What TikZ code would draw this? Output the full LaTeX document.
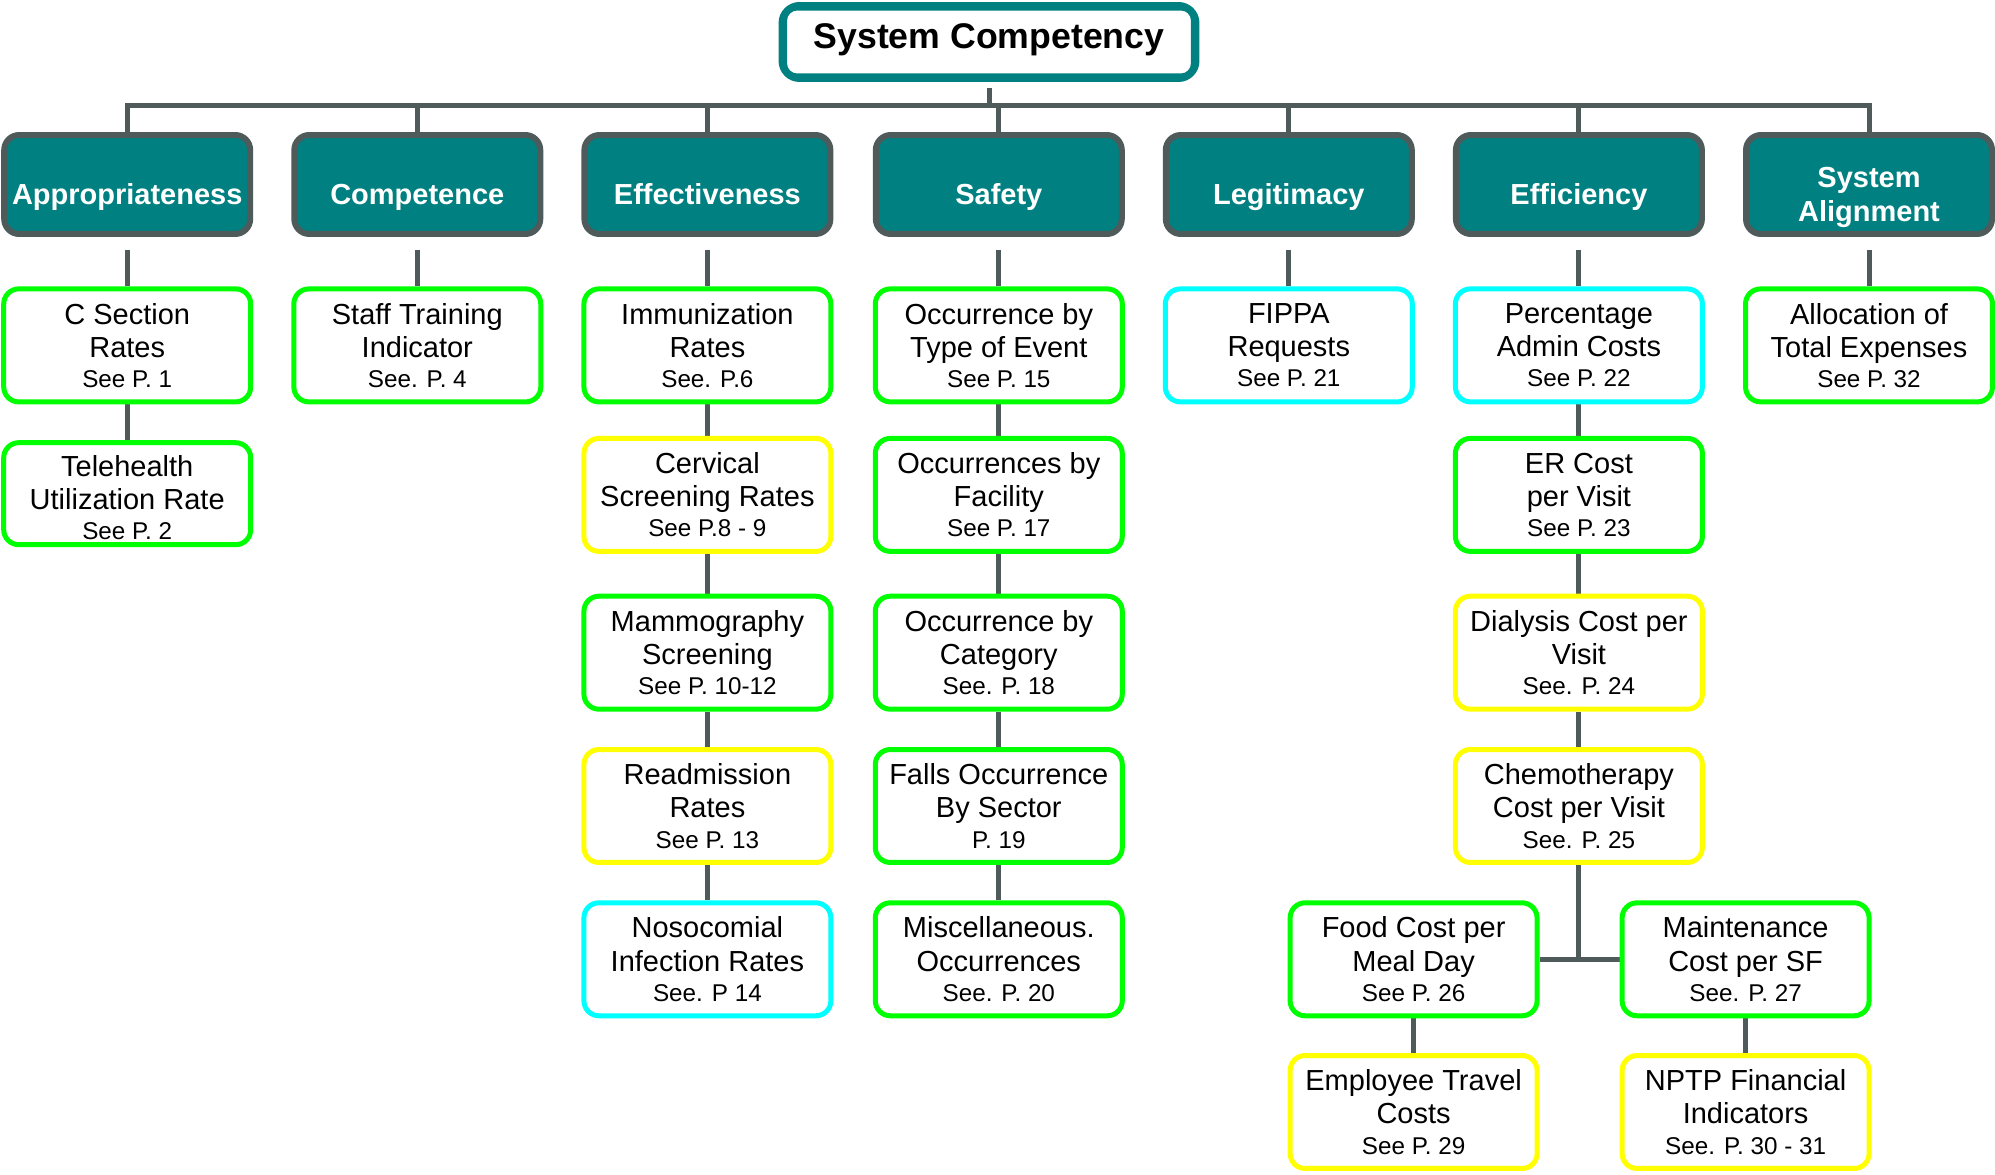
\documentclass[tikz,border=0pt]{standalone}
\usepackage{fontspec}
\setmainfont{Liberation Sans}
\usetikzlibrary{backgrounds}
\definecolor{tealc}{RGB}{0,128,128}
\definecolor{lineg}{RGB}{79,91,91}
\definecolor{lgreen}{RGB}{0,255,0}
\definecolor{lyellow}{RGB}{255,255,0}
\definecolor{lcyan}{RGB}{0,255,255}
\newcommand{\seep}[1]{{\fontsize{13.8}{16}\selectfont #1}}
\begin{document}
\begin{tikzpicture}[x=0.02cm,y=-0.02cm,
  titlebox/.style={draw=tealc, fill=white, line width=0.14cm, rounded corners=0.35cm,
    minimum width=8.28cm, minimum height=1.46cm, inner sep=0,
    text height=14.5pt, text depth=7.2pt,
    font=\fontsize{20.3}{24}\selectfont\bfseries},
  hdr/.style={draw=lineg, fill=tealc, line width=0.12cm, rounded corners=0.3cm,
    minimum width=4.92cm, minimum height=1.98cm, text=white, align=center, inner sep=0,
    text height=23pt, text depth=0pt,
    font=\fontsize{16.5}{19.5}\selectfont\bfseries},
  leaf/.style={draw=#1, fill=white, line width=0.1cm, rounded corners=0.3cm,
    minimum width=4.94cm, minimum height=2.26cm, align=center, inner sep=0,
    font=\fontsize{16.5}{18.8}\selectfont},
  conn/.style={draw=lineg, line width=0.1cm},
  hconn/.style={conn, shorten <=0.26cm},
]
\useasboundingbox (0,0) rectangle (1995,1175);

% title
\node[titlebox] (title) at (989,42) {System Competency};
\draw[tealc, line width=0.04cm, rounded corners=0.22cm]
  ([shift={(7.5,7.5)}]title.north west) rectangle ([shift={(-7.5,-7.5)}]title.south east);

% headers
\node[hdr] (hA) at (127.2,184.5) {Appropriateness};
\node[hdr] (hB) at (417.3,184.5) {Competence};
\node[hdr] (hC) at (707.4,184.5) {Effectiveness};
\node[hdr] (hD) at (998.8,184.5) {Safety};
\node[hdr] (hE) at (1288.8,184.5) {Legitimacy};
\node[hdr] (hF) at (1578.9,184.5) {Efficiency};
\node[hdr, text height=42.4pt, text depth=0pt] (hG) at (1869.0,184.5) {System\\Alignment};

% Appropriateness
\node[leaf=lgreen] (a1) at (127.2,345.4) {C Section\\Rates\\[-1.5pt]\seep{See P. 1}};
\node[leaf=lgreen, minimum height=2.04cm, text height=52.4pt, text depth=0pt] (a2) at (127.2,493.7) {Telehealth\\Utilization Rate\\[-1.5pt]\seep{See P. 2}};

% Competence
\node[leaf=lgreen] (b1) at (417.3,345.4) {Staff Training\\Indicator\\[-1.5pt]\seep{See. P. 4}};

% Effectiveness
\node[leaf=lgreen] (c1) at (707.4,345.4) {Immunization\\Rates\\[-1.5pt]\seep{See. P.6}};
\node[leaf=lyellow] (c2) at (707.4,494.9) {Cervical\\Screening Rates\\[-1.5pt]\seep{See P.8 - 9}};
\node[leaf=lgreen] (c3) at (707.4,652.7) {Mammography\\Screening\\[-1.5pt]\seep{See P. 10-12}};
\node[leaf=lyellow] (c4) at (707.4,806.0) {Readmission\\Rates\\[-1.5pt]\seep{See P. 13}};
\node[leaf=lcyan] (c5) at (707.4,959.3) {Nosocomial\\Infection Rates\\[-1.5pt]\seep{See. P 14}};

% Safety
\node[leaf=lgreen] (d1) at (998.8,345.4) {Occurrence by\\Type of Event\\[-1.5pt]\seep{See P. 15}};
\node[leaf=lgreen] (d2) at (998.8,494.9) {Occurrences by\\Facility\\[-1.5pt]\seep{See P. 17}};
\node[leaf=lgreen] (d3) at (998.8,652.7) {Occurrence by\\Category\\[-1.5pt]\seep{See. P. 18}};
\node[leaf=lgreen] (d4) at (998.8,806.0) {Falls Occurrence\\By Sector\\[-1.5pt]\seep{P. 19}};
\node[leaf=lgreen] (d5) at (998.8,959.3) {Miscellaneous.\\Occurrences\\[-1.5pt]\seep{See. P. 20}};

% Legitimacy
\node[leaf=lcyan] (e1) at (1288.8,345.4) {FIPPA\\Requests\\[-1.5pt]\seep{See P. 21}};

% Efficiency
\node[leaf=lcyan] (f1) at (1578.9,345.4) {Percentage\\Admin Costs\\[-1.5pt]\seep{See P. 22}};
\node[leaf=lgreen] (f2) at (1578.9,494.9) {ER Cost\\per Visit\\[-1.5pt]\seep{See P. 23}};
\node[leaf=lyellow] (f3) at (1578.9,652.7) {Dialysis Cost per\\Visit\\[-1.5pt]\seep{See. P. 24}};
\node[leaf=lyellow] (f4) at (1578.9,806.0) {Chemotherapy\\Cost per Visit\\[-1.5pt]\seep{See. P. 25}};
\node[leaf=lgreen] (f5) at (1413.6,959.3) {Food Cost per\\Meal Day\\[-1.5pt]\seep{See P. 26}};
\node[leaf=lgreen] (f6) at (1745.6,959.3) {Maintenance\\Cost per SF\\[-1.5pt]\seep{See. P. 27}};
\node[leaf=lyellow] (f7) at (1413.6,1112.0) {Employee Travel\\Costs\\[-1.5pt]\seep{See P. 29}};
\node[leaf=lyellow] (f8) at (1745.6,1112.0) {NPTP Financial\\Indicators\\[-1.5pt]\seep{See. P. 30 - 31}};

% System Alignment
\node[leaf=lgreen] (g1) at (1869.0,345.4) {Allocation of\\Total Expenses\\[-1.5pt]\seep{See P. 32}};

\coordinate (busT) at (989,106);
\coordinate (busL) at (127.2,106);
\coordinate (busR) at (1869.0,106);
\coordinate (eJ) at (1578.9,959.3);

\begin{scope}[on background layer]
  \draw[conn, shorten <=0.12cm] (title.south) -- (busT);
  \draw[conn, line cap=rect] (busL) -- (busR);
  \foreach \h in {hA,hB,hC,hD,hE,hF,hG} { \draw[conn] (\h.north |- busT) -- (\h.north); }
  % header to first leaf
  \draw[hconn] (hA.south) -- (a1.north);
  \draw[hconn] (hB.south) -- (b1.north);
  \draw[hconn] (hC.south) -- (c1.north);
  \draw[hconn] (hD.south) -- (d1.north);
  \draw[hconn] (hE.south) -- (e1.north);
  \draw[hconn] (hF.south) -- (f1.north);
  \draw[hconn] (hG.south) -- (g1.north);
  % leaf chains
  \draw[conn] (a1) -- (a2);
  \draw[conn] (c1) -- (c2) -- (c3) -- (c4) -- (c5);
  \draw[conn] (d1) -- (d2) -- (d3) -- (d4) -- (d5);
  \draw[conn] (f1) -- (f2) -- (f3) -- (f4) -- (eJ);
  \draw[conn] (f5) -- (f6);
  \draw[conn] (f5) -- (f7);
  \draw[conn] (f6) -- (f8);
\end{scope}
\end{tikzpicture}
\end{document}
